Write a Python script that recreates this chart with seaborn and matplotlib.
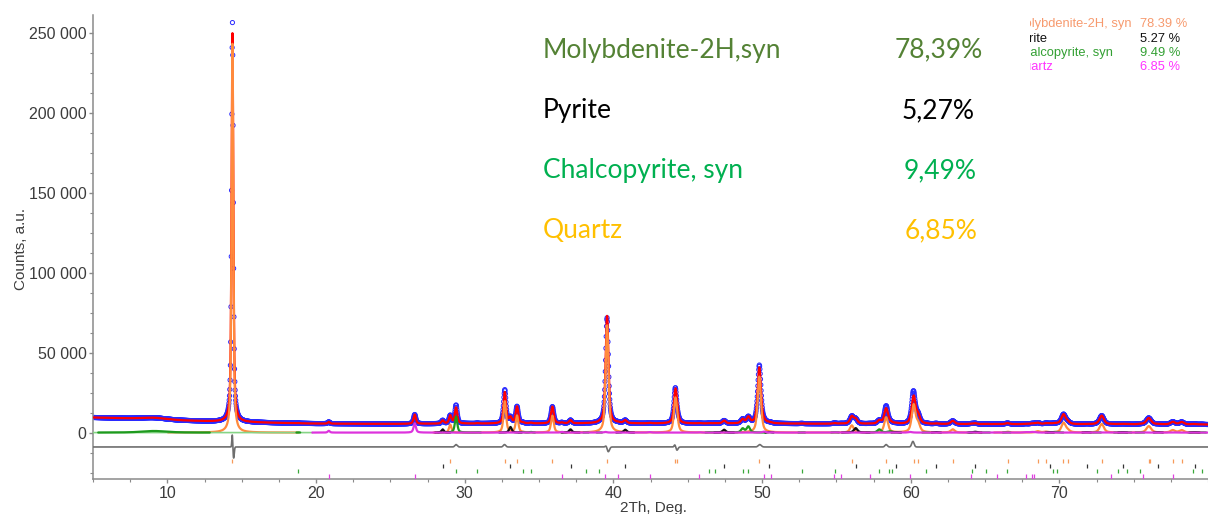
import numpy as np
import matplotlib
matplotlib.use("Agg")
import matplotlib.pyplot as plt
import seaborn as sns
from matplotlib.ticker import FuncFormatter, MultipleLocator, FixedLocator
from matplotlib.transforms import Bbox, TransformedBbox

# ---------------- data ----------------
# background level (2Th, counts)
bg_2th = [5, 7, 9, 11, 13, 15, 17, 20, 25, 30, 40, 50, 60, 70, 80]
bg_counts = [9400, 8900, 8300, 7500, 6900, 6500, 6100, 5600, 5400, 5600,
             5700, 5600, 5300, 5200, 5000]

# Molybdenite-2H reflections: position, peak intensity
mo_2th = [14.38, 29.03, 32.70, 33.52, 35.90, 39.58, 44.18, 44.31, 49.82, 56.04,
          58.35, 60.20, 60.50, 62.83, 66.53, 68.55, 69.10, 70.28, 70.56, 72.85,
          76.00, 76.12, 77.63, 78.23]
mo_int = [243000, 5000, 19500, 10500, 10500, 67000, 21000, 2000, 35000, 4500,
          9500, 17000, 5000, 2000, 500, 800, 500, 6000, 1200, 5400,
          3500, 700, 1500, 1500]

# Pyrite reflections
py_2th = [28.52, 33.08, 37.12, 40.80, 47.45, 50.50, 56.30, 59.04, 61.72, 64.34,
          69.35, 71.84, 74.26, 76.66, 79.10]
py_int = [2000, 3500, 2000, 1800, 1800, 300, 2800, 300, 300, 500,
          200, 200, 200, 200, 200]

# Chalcopyrite reflections
cp_2th = [18.81, 29.42, 30.85, 33.90, 34.46, 38.16, 39.06, 46.46, 46.84, 48.70,
          49.08, 52.67, 54.91, 57.89, 58.56, 58.72, 61.03, 64.10, 65.07, 66.46,
          69.60, 69.86, 72.52, 73.97, 74.53, 75.43, 78.97, 79.58]
cp_int = [150, 10000, 200, 400, 400, 150, 150, 200, 200, 2500,
          3800, 150, 200, 2000, 600, 400, 150, 200, 150, 150,
          300, 300, 150, 150, 150, 150, 150, 150]
# broad low-angle hump assigned to the chalcopyrite phase
cp_hump_2th = [9.1]
cp_hump_int = [1000]
cp_hump_fwhm = [2.0]

# Quartz reflections
qz_2th = [20.86, 26.64, 36.54, 39.47, 40.30, 42.45, 45.79, 50.14, 50.62, 54.87,
          55.33, 57.24, 59.96, 64.04, 65.79, 67.74, 68.14, 68.32, 73.47, 75.66,
          77.67]
qz_int = [1100, 5800, 450, 400, 200, 300, 200, 600, 150, 200,
          150, 100, 400, 100, 100, 250, 300, 200, 100, 100,
          100]

# observed minus calculated features: position, amplitude, width
res_2th = [14.37, 14.46, 29.42, 32.68, 39.52, 39.66, 44.14, 44.28, 49.85, 58.35, 60.15]
res_amp = [8000, -7000, 1500, 1500, 1000, -3000, 1500, -2000, 1500, 1500, 3500]
res_w = [0.03, 0.04, 0.08, 0.08, 0.06, 0.08, 0.05, 0.07, 0.10, 0.08, 0.08]

# quantitative phase analysis
phase_names = ["Molybdenite-2H, syn", "Pyrite", "Chalcopyrite, syn", "Quartz"]
phase_pct = ["78.39 %", "5.27 %", "9.49 %", "6.85 %"]
label_names = ["Molybdenite-2H,syn", "Pyrite", "Chalcopyrite, syn", "Quartz"]
label_pct = ["78,39%", "5,27%", "9,49%", "6,85%"]

# ---------------- profile model ----------------
ETA = 0.6


def fwhm(t):
    return 0.09 + 0.0035 * t


def pseudo_voigt(x, c, h, w):
    d = (x - c) / w
    return h * (ETA / (1 + 4 * d * d) + (1 - ETA) * np.exp(-4 * np.log(2) * d * d))


def phase_profile(x, pos, ints, widths=None):
    y = np.zeros_like(x)
    for i, (c, h) in enumerate(zip(pos, ints)):
        w = widths[i] if widths is not None else fwhm(c)
        y += pseudo_voigt(x, c, h, w)
    return y


def residual(x):
    y = np.zeros_like(x)
    for c, a, s in zip(res_2th, res_amp, res_w):
        y += a * np.exp(-0.5 * ((x - c) / s) ** 2)
    return y


def curves(x):
    mo = phase_profile(x, mo_2th, mo_int)
    py = phase_profile(x, py_2th, py_int)
    cp = phase_profile(x, cp_2th, cp_int) + phase_profile(x, cp_hump_2th, cp_hump_int, cp_hump_fwhm)
    qz = phase_profile(x, qz_2th, qz_int)
    bg = np.interp(x, bg_2th, bg_counts)
    return bg, mo, py, cp, qz


x_obs = np.arange(5.0, 80.0001, 0.02)
x_calc = np.arange(5.0, 80.0001, 0.005)

bg_o, mo_o, py_o, cp_o, qz_o = curves(x_obs)
calc_o = bg_o + mo_o + py_o + cp_o + qz_o
obs = calc_o + residual(x_obs)

bg_c, mo_c, py_c, cp_c, qz_c = curves(x_calc)
calc = bg_c + mo_c + py_c + cp_c + qz_c
diff = residual(x_calc) - 9000

# ---------------- figure ----------------
sns.set_theme(style="white")
plt.rcParams["font.family"] = ["Liberation Sans", "DejaVu Sans"]

fig = plt.figure(figsize=(12.08, 5.14), dpi=100)
ax = fig.add_axes([93 / 1208, 34.7 / 514, 1 - 93 / 1208, (479.3 - 15) / 514])

sns.scatterplot(x=x_obs, y=obs, ax=ax, marker="o", s=9, color="#2a2aff",
                facecolor="none", edgecolor="#2a2aff", linewidth=0.7,
                zorder=2, legend=False)
sns.lineplot(x=x_calc, y=calc, ax=ax, color="#ff0000", lw=1.6,
             estimator=None, sort=False, zorder=3, legend=False)


def masked(y, thr=40):
    y = y.copy()
    y[y < thr] = np.nan
    return y


ax.plot(x_calc, masked(mo_c), color="#ff8a3d", lw=1.6, zorder=4)
zero_mask = x_calc <= 19.75
ax.plot(x_calc[zero_mask], np.zeros(zero_mask.sum()), color="#86d486", lw=1.2, zorder=4)
ax.plot(x_calc, masked(cp_c), color="#1e9a1e", lw=1.6, zorder=5)
ax.plot(x_calc, masked(py_c), color="#111111", lw=1.6, zorder=6)
qz_mask = x_calc >= 19.75
ax.plot(x_calc[qz_mask], qz_c[qz_mask], color="#dd33dd", lw=1.6, zorder=6)

sns.lineplot(x=x_calc, y=diff, ax=ax, color="#6e6e6e", lw=1.2,
             estimator=None, sort=False, zorder=3, legend=False)

# reflection markers, one row per phase
tick_rows = [
    (mo_2th, "#f79a5a", -16300, -19300),
    (py_2th, "#333333", -19800, -22300),
    (cp_2th, "#3aa83a", -22700, -25400),
    (qz_2th, "#e040e0", -25900, -28900),
]
for pos, col, y0, y1 in tick_rows:
    ax.vlines(pos, y0, y1, colors=col, lw=0.9, zorder=3)

ax.set_xlim(5, 80)
ax.set_ylim(-29200, 261000)

for side in ("top", "right"):
    ax.spines[side].set_visible(False)
for side in ("left", "bottom"):
    ax.spines[side].set_color("#8a8a8a")
    ax.spines[side].set_linewidth(1.1)

ax.xaxis.set_major_locator(FixedLocator([10, 20, 30, 40, 50, 60, 70]))
ax.xaxis.set_minor_locator(MultipleLocator(2.5))
ax.yaxis.set_major_locator(FixedLocator([0, 50000, 100000, 150000, 200000, 250000]))
ax.yaxis.set_minor_locator(MultipleLocator(12500))
ax.yaxis.set_major_formatter(FuncFormatter(lambda v, p: f"{int(round(v)):,}".replace(",", " ")))

ax.tick_params(axis="both", which="major", direction="out", length=3, width=1,
               color="#8a8a8a", labelsize=11.5, labelcolor="#3c3c3c", pad=1.5,
               bottom=True, left=True)
ax.tick_params(axis="both", which="minor", direction="out", length=2, width=0.8,
               color="#8a8a8a", bottom=True, left=True)

ax.set_xlabel("2Th, Deg.", fontsize=11, color="#3c3c3c")
ax.set_ylabel("Counts, a.u.", fontsize=11, color="#3c3c3c")
ax.xaxis.set_label_coords(0.503, -0.047)
ax.yaxis.set_label_coords(-0.058, 0.495)

# phase table in the upper right corner
clip = TransformedBbox(Bbox([[1030 / 1208, 0], [1.0, 1.0]]), fig.transFigure)
small_cols = ["#f79a6e", "#111111", "#33a033", "#ff33ff"]
small_y = [24, 39, 53, 67]
for name, pct, col, yy in zip(phase_names, phase_pct, small_cols, small_y):
    t = fig.text(1014 / 1208, 1 - yy / 514, name, color=col, fontsize=9.3,
                 va="center", ha="left")
    t.set_clip_box(clip)
    t.set_clip_on(True)
    fig.text(1140 / 1208, 1 - yy / 514, pct, color=col, fontsize=9.3,
             va="center", ha="left")

# large labels with weight percentages
big_cols = ["#548235", "#000000", "#00b050", "#ffc000"]
big_base = [57.7, 118.3, 178.3, 238.3]
big_right = [983, 975, 977, 978]
for name, pct, col, yb, xr in zip(label_names, label_pct, big_cols, big_base, big_right):
    fig.text(543 / 1208, 1 - yb / 514, name, color=col, fontsize=19,
             family=["Lato", "DejaVu Sans"], va="baseline", ha="left")
    fig.text(xr / 1208, 1 - yb / 514, pct, color=col, fontsize=19,
             family=["Lato", "DejaVu Sans"], va="baseline", ha="right")

fig.savefig("out.png", dpi=100)
